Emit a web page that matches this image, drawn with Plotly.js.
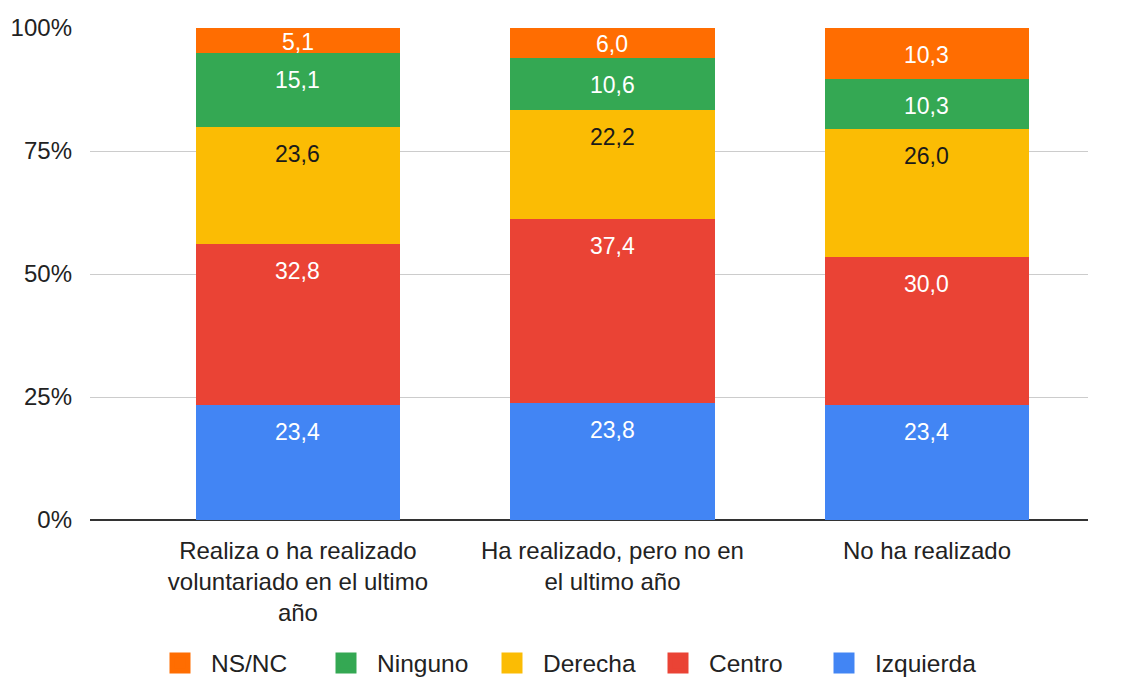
<!DOCTYPE html>
<html>
<head>
<meta charset="utf-8">
<script src="https://cdn.plot.ly/plotly-3.0.1.min.js"></script>
<style>html,body{margin:0;padding:0;background:#fff;}#chart{width:1126px;height:679px;}</style>
</head>
<body>
<div id="chart"></div>
<script>
const categories = [
  "Realiza o ha realizado<br>voluntariado en el ultimo<br>año",
  "Ha realizado, pero no en<br>el ultimo año",
  "No ha realizado"
];
const izquierda = [23.4, 23.8, 23.4];
const centro = [32.8, 37.4, 30.0];
const derecha = [23.6, 22.2, 26.0];
const ninguno = [15.1, 10.6, 10.3];
const nsnc = [5.1, 6.0, 10.3];
const seriesNames = ["Izquierda", "Centro", "Derecha", "Ninguno", "NS/NC"];
const seriesColors = ["#4285F4", "#EA4335", "#FBBC04", "#34A853", "#FF6D01"];
const textColors = ["#ffffff", "#ffffff", "#1a1a1a", "#ffffff", "#ffffff"];
const seriesValues = [izquierda, centro, derecha, ninguno, nsnc];
const tickVals = [0, 25, 50, 75, 100];
const tickText = ["0%", "25%", "50%", "75%", "100%"];

const FONT = '"Liberation Sans", Arial, Helvetica, sans-serif';
const plotTop = 28, plotBottom = 520;
const pxPerUnit = (plotBottom - plotTop) / 100;

const fmt = v => v.toFixed(1).replace('.', ',');

const traces = seriesNames.map((name, i) => ({
  type: 'bar',
  name: name,
  x: categories,
  y: seriesValues[i],
  marker: {color: seriesColors[i], line: {width: 0}},
  width: 0.65,
  hoverinfo: 'none',
  showlegend: false
}));

// legend-only entries (larger square symbols)
seriesNames.forEach((name, i) => {
  traces.push({
    type: 'scatter',
    mode: 'markers',
    name: name,
    x: [null],
    y: [null],
    marker: {symbol: 'square', size: 16, color: seriesColors[i], line: {color: seriesColors[i], width: 5}},
    hoverinfo: 'none',
    showlegend: true
  });
});

// value labels placed near the top of each segment
const annotations = [];
const cum = categories.map(() => 0);
seriesValues.forEach((vals, i) => {
  vals.forEach((v, j) => {
    cum[j] += v;
    const hPx = v * pxPerUnit;
    const off = Math.min(27, hPx * 0.55);
    annotations.push({
      x: categories[j],
      y: cum[j],
      xref: 'x',
      yref: 'y',
      text: fmt(v),
      showarrow: false,
      yanchor: 'middle',
      yshift: -off,
      font: {family: FONT, size: 23, color: textColors[i]}
    });
  });
});

const layout = {
  width: 1126,
  height: 679,
  margin: {l: 90, r: 38, t: 28, b: 159},
  barmode: 'stack',
  paper_bgcolor: '#ffffff',
  plot_bgcolor: '#ffffff',
  font: {family: FONT, size: 24, color: '#222222'},
  showlegend: true,
  annotations: annotations,
  legend: {
    orientation: 'h',
    traceorder: 'reversed',
    x: (149 - 90) / 998,
    xanchor: 'left',
    xref: 'paper',
    y: 1 - 663 / 679,
    yref: 'container',
    yanchor: 'middle',
    font: {family: FONT, size: 24.5, color: '#222222'},
    itemwidth: 52,
    entrywidth: 99,
    entrywidthmode: 'pixels'
  },
  xaxis: {
    type: 'category',
    range: [-0.661, 2.512],
    automargin: false,
    showgrid: false,
    showline: false,
    ticks: '',
    ticklabelstandoff: 14,
    tickfont: {family: FONT, size: 24, color: '#222222'},
    fixedrange: true
  },
  yaxis: {
    range: [0, 100],
    automargin: false,
    tickvals: tickVals,
    ticktext: tickText,
    showgrid: true,
    gridcolor: '#cccccc',
    gridwidth: 1,
    zeroline: true,
    zerolinecolor: '#333333',
    zerolinewidth: 1.5,
    tickfont: {family: FONT, size: 24, color: '#222222'},
    ticks: '',
    ticklabelstandoff: 17,
    fixedrange: true
  }
};

Plotly.newPlot('chart', traces, layout, {displayModeBar: false, staticPlot: true});
</script>
</body>
</html>
